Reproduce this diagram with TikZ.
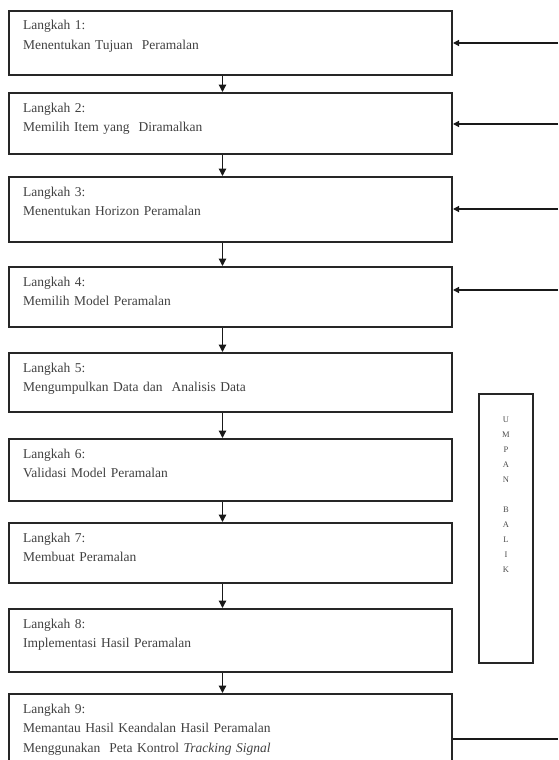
\documentclass[tikz,border=0pt]{standalone}
\usepackage{fontspec}
\setmainfont{Liberation Serif}
\usetikzlibrary{arrows.meta}
\tikzset{
  stepbox/.style={draw=black!85, line width=2pt, minimum width=443pt, inner sep=0pt},
  steptext/.style={anchor=base west, text width=420pt, align=left, inner sep=0pt, text=black!75, font=\fontsize{13.5}{19.5}\selectfont},
  flow/.style={line width=1.3pt, draw=black!90, -{Triangle[length=7.5pt,width=7.5pt]}},
}

\begin{document}
\begin{tikzpicture}[x=1pt,y=-1pt]
  \useasboundingbox (0,0) rectangle (558,760);

  %draw step boxes
  \node[stepbox, minimum height=64pt] (s1) at (230.5,43) {};
  \node[stepbox, minimum height=61pt] (s2) at (230.5,123.5) {};
  \node[stepbox, minimum height=65pt] (s3) at (230.5,209.5) {};
  \node[stepbox, minimum height=60pt] (s4) at (230.5,297) {};
  \node[stepbox, minimum height=59pt] (s5) at (230.5,382.5) {};
  \node[stepbox, minimum height=62pt] (s6) at (230.5,470) {};
  \node[stepbox, minimum height=60pt] (s7) at (230.5,553) {};
  \node[stepbox, minimum height=63pt] (s8) at (230.5,640.5) {};
  \node[stepbox, minimum height=86pt] (s9) at (230.5,737) {};

  %step labels
  \node[steptext] (t1) at ([xshift=15pt,yshift=-20pt]s1.north west) {Langkah 1:\\Menentukan Tujuan \ Peramalan};
  \node[steptext] (t2) at ([xshift=15pt,yshift=-20pt]s2.north west) {Langkah 2:\\Memilih Item yang \ Diramalkan};
  \node[steptext] (t3) at ([xshift=15pt,yshift=-20pt]s3.north west) {Langkah 3:\\Menentukan Horizon Peramalan};
  \node[steptext] (t4) at ([xshift=15pt,yshift=-20pt]s4.north west) {Langkah 4:\\Memilih Model Peramalan};
  \node[steptext] (t5) at ([xshift=15pt,yshift=-20pt]s5.north west) {Langkah 5:\\Mengumpulkan Data dan \ Analisis Data};
  \node[steptext] (t6) at ([xshift=15pt,yshift=-20pt]s6.north west) {Langkah 6:\\Validasi Model Peramalan};
  \node[steptext] (t7) at ([xshift=15pt,yshift=-20pt]s7.north west) {Langkah 7:\\Membuat Peramalan};
  \node[steptext] (t8) at ([xshift=15pt,yshift=-20pt]s8.north west) {Langkah 8:\\Implementasi Hasil Peramalan};
  \node[steptext] (t9) at ([xshift=15pt,yshift=-20pt]s9.north west) {Langkah 9:\\Memantau Hasil Keandalan Hasil Peramalan\\Menggunakan \ Peta Kontrol \textit{Tracking Signal}};

  %arrows between steps
  \foreach \a/\b in {s1/s2,s2/s3,s3/s4,s4/s5,s5/s6,s6/s7,s7/s8,s8/s9}
    \draw[flow] ([xshift=-8pt]\a.south) -- ([xshift=-8pt]\b.north);

  %feedback box
  \node[draw=black!85, line width=2.4pt, minimum width=54pt, minimum height=269pt, inner sep=0pt] (ub) at (506,528.5) {};
  \node[anchor=base, text width=20pt, align=center, inner sep=0pt, text=black!70, font=\fontsize{8.5}{15}\selectfont] (ubt) at ([yshift=-30pt]ub.north) {U\\M\\P\\A\\N\\[15pt]B\\A\\L\\I\\K};

  %feedback lines
  \coordinate (fb1) at (558,43);
  \coordinate (fb2) at (558,124);
  \coordinate (fb3) at (558,209);
  \coordinate (fb4) at (558,290);
  \coordinate (fb9) at (558,739);
  \foreach \f/\s in {fb1/s1,fb2/s2,fb3/s3,fb4/s4}
    \draw[flow,-{Triangle[length=6pt,width=6pt]}] (\f) -- (\f -| \s.east);
  \draw[line width=1.3pt, draw=black!90] (fb9 -| s9.east) -- (fb9);
\end{tikzpicture}
\end{document}
